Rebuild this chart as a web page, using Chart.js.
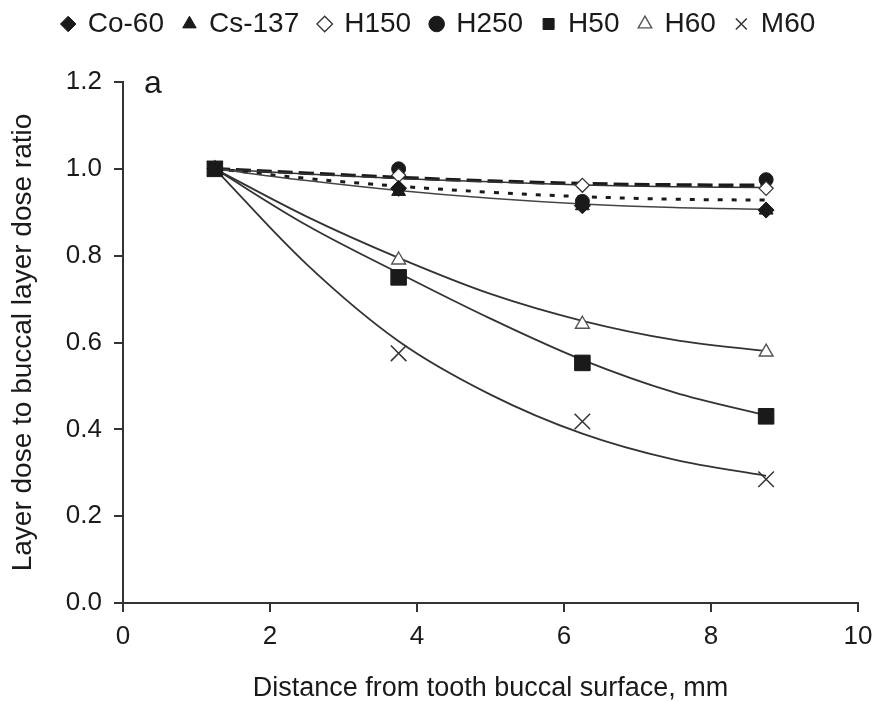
<!DOCTYPE html>
<html>
<head>
<meta charset="utf-8">
<script src="https://cdn.jsdelivr.net/npm/chart.js@4"></script>
<style>
  body { margin: 0; background: #fff; }
  #doseChart { display: block; }
</style>
</head>
<body>
<canvas id="doseChart" width="875" height="702"></canvas>
<script>
  // distances of the measured layers (mm)
  const distances = [1.25, 3.75, 6.25, 8.75];
  // x positions where the fitted trend curves were sampled
  const trendX = [1.25, 2.5, 3.75, 5, 6.25, 7.5, 8.75];

  const seriesNames = ['Co-60', 'Cs-137', 'H150', 'H250', 'H50', 'H60', 'M60'];

  // measured layer dose ratios
  const co60 = [1.0, 0.955, 0.915, 0.905];
  const cs137 = [1.0, 0.948, 0.915, 0.905];
  const h150 = [1.0, 0.985, 0.962, 0.955];
  const h250 = [1.0, 1.0, 0.925, 0.975];
  const h50 = [1.0, 0.75, 0.553, 0.43];
  const h60 = [1.0, 0.79, 0.642, 0.578];
  const m60 = [1.0, 0.575, 0.418, 0.285];

  // trend curves
  const co60Trend = [1.0, 0.973, 0.95, 0.932, 0.919, 0.911, 0.907];
  const cs137Trend = [1.0, 0.978, 0.96, 0.946, 0.936, 0.93, 0.928];
  const h150Trend = [1.0, 0.988, 0.978, 0.97, 0.963, 0.959, 0.957];
  const h250Trend = [1.0, 0.99, 0.98, 0.972, 0.966, 0.963, 0.962];
  const h50Trend = [1.0, 0.87, 0.76, 0.655, 0.56, 0.485, 0.432];
  const h60Trend = [1.0, 0.89, 0.795, 0.712, 0.65, 0.606, 0.58];
  const m60Trend = [1.0, 0.78, 0.603, 0.48, 0.39, 0.33, 0.293];

  const yTicks = [0, 0.2, 0.4, 0.6, 0.8, 1.0, 1.2];
  const xTicks = [0, 2, 4, 6, 8, 10];

  const FONT = "'Liberation Sans', Arial, sans-serif";
  const INK = '#1a1a1a';

  const toPoints = (xs, ys) => xs.map((x, i) => ({ x: x, y: ys[i] }));

  function markerSet(label, values, style, radius, fill, border, width) {
    return {
      label: label,
      data: toPoints(distances, values),
      showLine: false,
      pointStyle: style,
      pointRadius: radius,
      pointBackgroundColor: fill,
      pointBorderColor: border,
      pointBorderWidth: width,
      backgroundColor: fill,
      borderColor: border,
      borderWidth: width
    };
  }

  function trendSet(values, color, width, dash) {
    return {
      label: '',
      data: toPoints(trendX, values),
      showLine: true,
      pointRadius: 0,
      borderColor: color,
      borderWidth: width,
      borderDash: dash,
      tension: 0.35,
      fill: false
    };
  }

  const datasets = [
    markerSet(seriesNames[0], co60, 'rectRot', 8, INK, INK, 1),
    markerSet(seriesNames[1], cs137, 'triangle', 8, INK, INK, 1),
    markerSet(seriesNames[2], h150, 'rectRot', 7, '#fff', '#333', 1.3),
    markerSet(seriesNames[3], h250, 'circle', 7, INK, INK, 1),
    markerSet(seriesNames[4], h50, 'rect', 11, INK, INK, 1),
    markerSet(seriesNames[5], h60, 'triangle', 8, '#fff', '#555', 1.4),
    markerSet(seriesNames[6], m60, 'crossRot', 11, '#333', '#333', 1.5),
    trendSet(co60Trend, '#444', 1.5, []),
    trendSet(cs137Trend, INK, 3, [5, 9]),
    trendSet(h150Trend, '#333', 1.5, []),
    trendSet(h250Trend, INK, 3.5, [15, 6]),
    trendSet(h50Trend, '#333', 1.8, []),
    trendSet(h60Trend, '#333', 1.8, []),
    trendSet(m60Trend, '#333', 1.8, [])
  ];

  // legend sits higher, with extra room left below it
  const legendGap = {
    id: 'legendGap',
    beforeInit(chart) {
      const legend = chart.legend;
      const fit = legend.fit;
      const draw = legend.draw;
      legend.fit = function () {
        fit.call(this);
        this.height += 24;
      };
      legend.draw = function () {
        const ctx = this.ctx;
        ctx.save();
        ctx.translate(10, -10);
        draw.call(this);
        ctx.restore();
      };
    }
  };

  // panel letter in the top-left corner of the plot
  const panelLetter = {
    id: 'panelLetter',
    afterDraw(chart) {
      const { ctx, chartArea } = chart;
      ctx.save();
      ctx.fillStyle = INK;
      ctx.font = "32px " + FONT;
      ctx.textAlign = 'left';
      ctx.textBaseline = 'middle';
      ctx.fillText('a', chartArea.left + 21, chartArea.top + 2);
      ctx.restore();
    }
  };

  new Chart(document.getElementById('doseChart'), {
    type: 'scatter',
    data: { datasets: datasets },
    plugins: [legendGap, panelLetter],
    options: {
      responsive: false,
      animation: false,
      events: [],
      layout: { padding: { top: 0, right: 17, left: 0, bottom: 0 } },
      plugins: {
        tooltip: { enabled: false },
        legend: {
          position: 'top',
          labels: {
            usePointStyle: true,
            boxWidth: 11,
            boxHeight: 11,
            padding: 20,
            color: INK,
            font: { family: FONT, size: 28 },
            filter: item => item.datasetIndex < seriesNames.length
          }
        }
      },
      scales: {
        x: {
          type: 'linear',
          min: 0,
          max: 10,
          afterBuildTicks: scale => { scale.ticks = xTicks.map(v => ({ value: v })); },
          afterFit: scale => {
            scale.height = 99;
            scale.paddingLeft = 0;
            scale.paddingRight = 17;
          },
          border: { display: true, color: '#333', width: 2 },
          grid: { display: true, drawOnChartArea: false, drawTicks: true, tickLength: 9, color: '#333', lineWidth: 2 },
          ticks: { color: INK, padding: 9, font: { family: FONT, size: 26 }, callback: v => String(v) },
          title: {
            display: true,
            text: 'Distance from tooth buccal surface, mm',
            color: INK,
            font: { family: FONT, size: 27, lineHeight: 1.0 },
            padding: { top: 0, bottom: 0 }
          }
        },
        y: {
          type: 'linear',
          min: 0,
          max: 1.2,
          afterBuildTicks: scale => { scale.ticks = yTicks.map(v => ({ value: v })); },
          afterFit: scale => { scale.width = 123; },
          border: { display: true, color: '#333', width: 2 },
          grid: { display: true, drawOnChartArea: false, drawTicks: true, tickLength: 9, color: '#333', lineWidth: 2 },
          ticks: { color: INK, padding: 12, font: { family: FONT, size: 26 }, callback: v => v.toFixed(1) },
          title: {
            display: true,
            text: 'Layer dose to buccal layer dose ratio',
            color: INK,
            font: { family: FONT, size: 28 },
            padding: { top: 6, bottom: 0 }
          }
        }
      }
    }
  });
</script>
</body>
</html>
